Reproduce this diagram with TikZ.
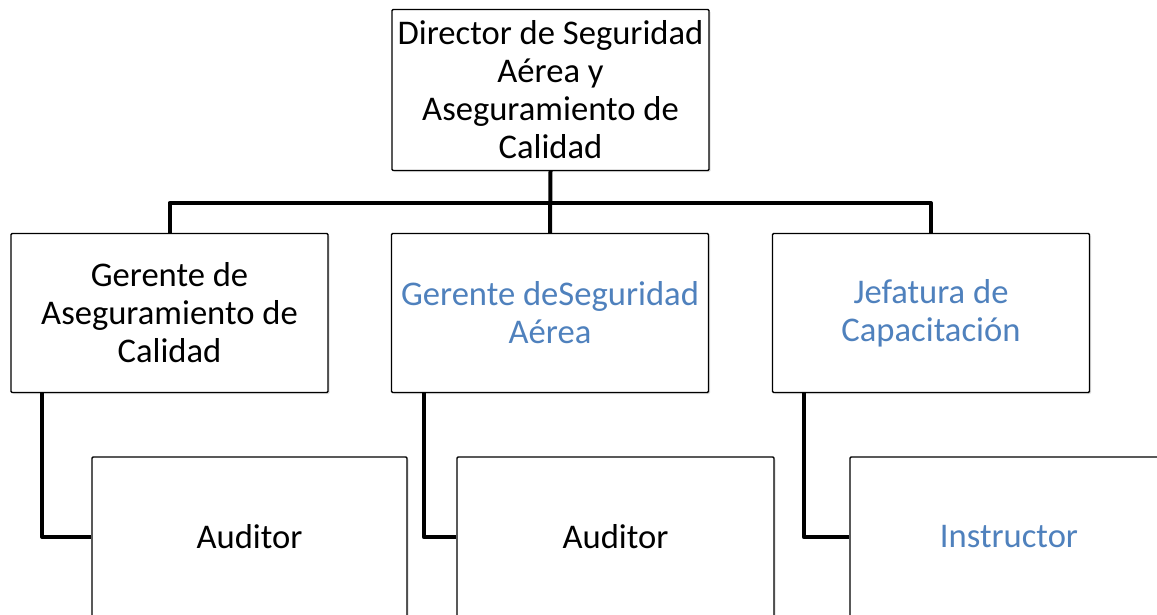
\documentclass[tikz,border=0pt]{standalone}
\usepackage{fontspec}
\setmainfont{Carlito}
\usetikzlibrary{shadows, positioning}
\definecolor{titleblue}{HTML}{4F81BD}
\tikzstyle{orgbox}=[draw=black, line width=1.4pt, rounded corners=1.2pt, fill=white, align=center, inner sep=0pt, minimum width=317pt, minimum height=159pt, font=\fontsize{34.6}{38}\selectfont, drop shadow={shadow xshift=1.5pt, shadow yshift=-1.5pt, opacity=0.25}]
\tikzstyle{bluetext}=[text=titleblue]
\tikzstyle{orgline}=[line width=4pt, line join=round]

\begin{document}
\begin{tikzpicture}[x=1pt, y=-1pt]
\useasboundingbox (0,0) rectangle (1157,614);
\clip (0,0) rectangle (1157,614);

% top
\node[orgbox, minimum height=161pt] (dir) at (550.5,90) {Director de Seguridad\\Aérea y\\Aseguramiento de\\Calidad};

% 2nd row
\node[orgbox] (gerAseg) at (169.5,313) {Gerente de\\Aseguramiento de\\Calidad};
\node[orgbox, bluetext] (gerSeg) at (550,313) {Gerente deSeguridad\\Aérea};
\node[orgbox, bluetext] (jefCap) at (931,313) {Jefatura de\\Capacitación};

% 3rd row
\node[orgbox, minimum width=315pt, minimum height=160pt] (aud1) at (249.5,537) {Auditor};
\node[orgbox, minimum height=160pt] (aud2) at (615.5,537) {Auditor};
\node[orgbox, bluetext, minimum width=318pt, minimum height=160pt] (instr) at (1009,537) {Instructor};

% connectors
\coordinate (bar) at (550,203);
\draw[orgline] (dir.south) -- (gerSeg.north);
\draw[orgline] (gerAseg.north) |- (bar) -| (jefCap.north);
\draw[orgline] ([xshift=32pt]gerAseg.south west) |- (aud1.west);
\draw[orgline] ([xshift=33pt]gerSeg.south west) |- (aud2.west);
\draw[orgline] ([xshift=32pt]jefCap.south west) |- (instr.west);

\end{tikzpicture}
\end{document}
